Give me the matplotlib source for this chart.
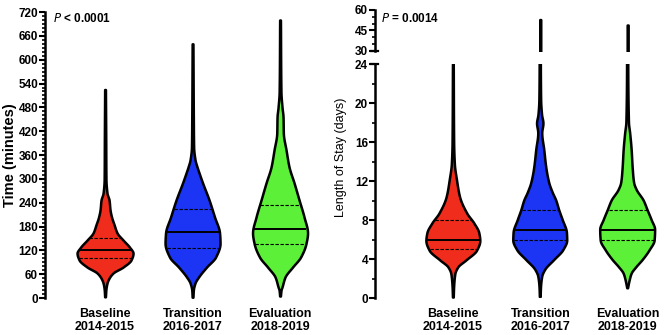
import numpy as np
import matplotlib
matplotlib.use("Agg")
import matplotlib.pyplot as plt
from matplotlib.ticker import MultipleLocator

plt.rcParams['font.family'] = ['Liberation Sans', 'DejaVu Sans']

categories = ["Baseline\n2014-2015", "Transition\n2016-2017", "Evaluation\n2018-2019"]
colors = ["#F02C1C", "#1C34F4", "#5CF038"]

# Time (minutes): violin outlines (value, relative half-width)
time_vals = [
    [3, 20, 38, 50, 63, 78, 96, 113, 128, 146, 164, 185, 204, 222, 247, 264, 300, 400, 525],
    [2, 20, 38, 53, 78, 103, 138, 164, 204, 247, 290, 315, 330, 348, 380, 450, 640],
    [5, 20, 28, 53, 78, 103, 138, 164, 204, 247, 290, 330, 373, 415, 456, 480, 520, 700],
]
time_dens = [
    [0.4, 0.8, 2, 4, 8, 18, 26, 28, 24.5, 18, 12, 9, 6.5, 5, 4, 2, 0.9, 0.7, 0.4],
    [0.4, 0.8, 2.5, 6, 14, 23, 27.5, 27, 22, 16.5, 10, 6.5, 4.5, 2.5, 1.1, 0.8, 0.4],
    [0.4, 1.0, 2, 5, 12.5, 20.5, 26, 27.5, 24, 19, 14, 9, 6, 3.3, 3, 2, 0.9, 0.4],
]
time_median = [120, 165, 175]
time_q1 = [100, 125, 135]
time_q3 = [150, 225, 235]

# Length of stay (days)
los_vals = [
    [0.1, 1, 2.5, 3.2, 3.9, 4.9, 5.9, 6.7, 7.7, 8.7, 10.4, 12.1, 13.8, 16, 24],
    [0.1, 1, 2.2, 2.9, 3.9, 4.9, 5.9, 6.7, 8, 9, 10, 10.8, 11.8, 13.4, 15.2, 16.9, 17.9, 18.8, 20.3, 24, 30, 53],
    [1, 1.8, 2.5, 3.2, 3.9, 4.9, 5.9, 7, 8, 9, 10, 11.1, 11.8, 13.4, 15.2, 16.9, 18, 24, 30, 49],
]
los_dens = [
    [0.4, 0.7, 2, 5, 13, 23.7, 27, 26, 21, 14, 6.7, 3.7, 1.5, 0.8, 0.4],
    [0.4, 0.7, 2, 5, 14, 23, 27, 26.7, 22.5, 19, 16, 12.5, 9, 6, 4, 2, 3.2, 1.8, 0.9, 0.6, 0.5, 0.5],
    [0.4, 2, 4, 9, 15, 22, 27, 27.5, 24, 20, 16, 9, 6.5, 5, 4, 2.5, 1.3, 0.6, 0.5, 0.5],
]
los_median = [6, 7, 7]
los_q1 = [5, 6, 6]
los_q3 = [8, 9, 9]

PX_PER_UNIT = 87.5  # px per category step

positions = [1, 2, 3]


def pchip(x, y, xn):
    x = np.asarray(x, float)
    y = np.asarray(y, float)
    h = np.diff(x)
    delta = np.diff(y) / h
    n = len(x)
    d = np.zeros(n)
    for k in range(1, n - 1):
        if delta[k - 1] * delta[k] > 0:
            w1 = 2 * h[k] + h[k - 1]
            w2 = h[k] + 2 * h[k - 1]
            d[k] = (w1 + w2) / (w1 / delta[k - 1] + w2 / delta[k])
    d[0] = delta[0] if n > 1 else 0
    d[-1] = delta[-1]
    idx = np.clip(np.searchsorted(x, xn) - 1, 0, n - 2)
    t = (xn - x[idx]) / h[idx]
    h00 = 2 * t**3 - 3 * t**2 + 1
    h10 = t**3 - 2 * t**2 + t
    h01 = -2 * t**3 + 3 * t**2
    h11 = t**3 - t**2
    return h00 * y[idx] + h10 * h[idx] * d[idx] + h01 * y[idx + 1] + h11 * h[idx] * d[idx + 1]


def draw_violins(ax, vals, dens, med, q1, q3, lines=True):
    stats = []
    widths = []
    for v, d, m in zip(vals, dens, med):
        v = np.asarray(v, float)
        fine = np.linspace(v.min(), v.max(), 600)
        fd = pchip(v, d, fine)
        stats.append(dict(coords=fine, vals=fd, mean=m, median=m,
                          min=v.min(), max=v.max()))
        widths.append(2 * fd.max() / PX_PER_UNIT)
    parts = ax.violin(stats, positions=positions, widths=widths,
                      showmeans=False, showextrema=False, showmedians=False)
    for body, c in zip(parts['bodies'], colors):
        body.set_facecolor(c)
        body.set_edgecolor('black')
        body.set_linewidth(1.8)
        body.set_alpha(1)
        body.set_joinstyle('round')
    if lines:
        for p, st, m, a, b in zip(positions, stats, med, q1, q3):
            for y, ls, lw in ((m, '-', 1.4), (a, (0, (3, 1.5)), 0.8), (b, (0, (3, 1.5)), 0.8)):
                hw = np.interp(y, st['coords'], st['vals']) / PX_PER_UNIT - 0.01
                ax.plot([p - hw, p + hw], [y, y], color='black', ls=ls, lw=lw,
                        solid_capstyle='butt', zorder=3)


fig = plt.figure(figsize=(6.69, 3.35), dpi=100)

# ---------- left panel ----------
axL = fig.add_axes([0.0673, 0.1104, 0.4167, 0.8536])
draw_violins(axL, time_vals, time_dens, time_median, time_q1, time_q3)
axL.set_ylim(0, 720)
axL.set_xlim(0.314, 3.5)
axL.yaxis.set_major_locator(MultipleLocator(60))
axL.yaxis.set_minor_locator(MultipleLocator(10))
axL.set_ylabel("Time (minutes)", fontsize=10.5, fontweight='bold', labelpad=1)
axL.text(0.028, 1.0, "$\\bf{\\it{P}}$ < 0.0001", transform=axL.transAxes,
         fontsize=8.5, fontweight='bold', va='top', ha='left')

# ---------- right panel (broken axis) ----------
axR = fig.add_axes([0.5605, 0.1104, 0.4365, 0.6985])
axU = fig.add_axes([0.5605, 0.8478, 0.4365, 0.1224])
draw_violins(axR, los_vals, los_dens, los_median, los_q1, los_q3)
draw_violins(axU, los_vals, los_dens, los_median, los_q1, los_q3, lines=False)
axR.set_ylim(0, 24)
axU.set_ylim(30, 60)
for ax in (axR, axU):
    ax.set_xlim(0.109, 3.45)
axR.yaxis.set_major_locator(MultipleLocator(4))
axR.yaxis.set_minor_locator(MultipleLocator(2))
axU.yaxis.set_major_locator(MultipleLocator(15))
axU.yaxis.set_minor_locator(MultipleLocator(5))
axR.set_ylabel("Length of Stay (days)", fontsize=9, labelpad=4)
axR.yaxis.set_label_coords(-0.095, 0.6)
axU.text(0.02, 0.80, "$\\bf{\\it{P}}$ = 0.0014", transform=axU.transAxes,
         fontsize=8.5, fontweight='bold', va='center', ha='left')

for ax in (axL, axR, axU):
    for s in ('top', 'right', 'bottom'):
        ax.spines[s].set_visible(False)
    ax.spines['left'].set_linewidth(1.8)
    ax.tick_params(axis='y', which='major', length=4, width=1.5, labelsize=8.5, pad=1)
    ax.tick_params(axis='y', which='minor', length=2.5, width=1.2)
    for lab in ax.get_yticklabels():
        lab.set_fontweight('bold')
    ax.patch.set_alpha(0)

for ax in (axL, axR):
    ax.set_xticks(positions)
    ax.set_xticklabels(categories, fontsize=9, fontweight='bold', linespacing=1.15)
    ax.tick_params(axis='x', length=0, pad=7)
axU.set_xticks([])

# break caps
axR.plot([-0.012, 0.012], [1, 1], transform=axR.transAxes, color='black', lw=1.6, clip_on=False)
axU.plot([-0.012, 0.012], [0, 0], transform=axU.transAxes, color='black', lw=1.6, clip_on=False)

fig.savefig("out.png", dpi=100)
